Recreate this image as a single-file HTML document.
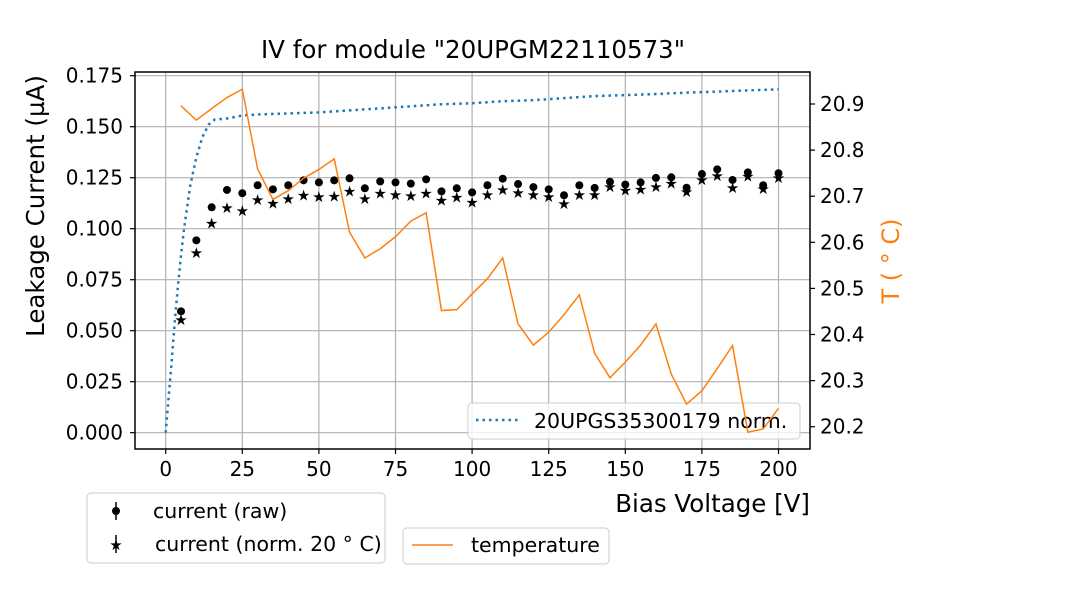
<!DOCTYPE html>
<html><head><meta charset="utf-8"><style>
html,body{margin:0;padding:0;background:#fff;}
svg{display:block;font-family:"DejaVu Sans","Liberation Sans",sans-serif;}
</style></head><body>
<svg id="chart" width="1080" height="600" viewBox="0 0 1080 600">
<rect width="1080" height="600" fill="#fff"/>
<g id="grid"></g>
<g id="series"></g>
<g id="axes"></g>
<text x="473" y="58" font-size="24.5" text-anchor="middle">IV for module "20UPGM22110573"</text>
<text transform="translate(44,206) rotate(-90)" font-size="24.5" text-anchor="middle">Leakage Current (µA)</text>
<text transform="translate(899,261) rotate(-90)" font-size="24" text-anchor="middle" fill="#ff7f0e">T ( ° C)</text>
<text x="810" y="512" font-size="24.5" text-anchor="end">Bias Voltage [V]</text>
<g id="legend1">
<rect x="87" y="493" width="298" height="70" rx="4" fill="#fff" fill-opacity="0.8" stroke="#ccc"/>
<g>
<line x1="116" y1="502" x2="116" y2="520" stroke="#000" stroke-width="1.5"/>
<circle cx="116" cy="511" r="4" fill="#000"/>
<text x="153" y="518" font-size="20.5">current (raw)</text></g>
<g>
<line x1="116" y1="535" x2="116" y2="553" stroke="#000" stroke-width="1.5"/>
<text x="116" y="550" font-size="15" text-anchor="middle">★</text>
<text x="155" y="551" font-size="20.5">current (norm. 20 ° C)</text></g>
</g>
<g>
<rect x="403" y="528" width="206" height="36" rx="4" fill="#fff" fill-opacity="0.8" stroke="#ccc"/>
<line x1="412" y1="545" x2="453" y2="545" stroke="#ff7f0e" stroke-width="1.5"/>
<text x="471" y="552" font-size="20.5">temperature</text>
</g>
<g>
<rect x="468" y="403" width="332" height="36" rx="4" fill="#fff" fill-opacity="0.8" stroke="#ccc"/>
<line x1="476" y1="420" x2="518" y2="420" stroke="#1f77b4" stroke-width="2.5" stroke-dasharray="2.5,4"/>
<text x="534" y="428" font-size="20.5">20UPGS35300179 norm.</text>
</g>
<g id="tempLayer"></g>
</svg>
<script>
const voltages = [5,10,15,20,25,30,35,40,45,50,55,60,65,70,75,80,85,90,95,100,105,110,115,120,125,130,135,140,145,150,155,160,165,170,175,180,185,190,195,200];
const currentRaw = [0.0595,0.0943,0.1105,0.119,0.1174,0.1213,0.1193,0.1213,0.1237,0.1227,0.1237,0.1247,0.1198,0.1232,0.1227,0.1221,0.1242,0.1183,0.1198,0.1178,0.1213,0.1245,0.1219,0.1204,0.1193,0.1164,0.1213,0.12,0.123,0.1216,0.1227,0.1249,0.1252,0.1201,0.1268,0.1291,0.1239,0.1276,0.1213,0.1272];
const currentNorm = [0.0554,0.0884,0.1029,0.1105,0.109,0.1142,0.1127,0.1149,0.1164,0.1157,0.116,0.1186,0.1147,0.1176,0.1167,0.1162,0.1176,0.1141,0.1155,0.1131,0.1167,0.1193,0.1178,0.1167,0.1157,0.1124,0.1167,0.1167,0.1206,0.119,0.1195,0.1206,0.1223,0.1183,0.1242,0.1262,0.1201,0.1258,0.1198,0.125];
const temperature = [20.896,20.865,20.89,20.914,20.932,20.759,20.693,20.712,20.739,20.758,20.781,20.622,20.566,20.586,20.612,20.646,20.664,20.452,20.454,20.488,20.521,20.566,20.423,20.377,20.405,20.443,20.486,20.359,20.306,20.34,20.377,20.423,20.314,20.249,20.278,20.326,20.376,20.188,20.195,20.24];
const refVoltages = [0,1,2,3,4,5,6,8,10,12,14,16,20,25,30,40,50,60,70,80,90,100,110,120,130,140,150,160,170,180,190,200];
const refCurrent = [0,0.018,0.036,0.055,0.072,0.087,0.1,0.121,0.135,0.145,0.151,0.1535,0.154,0.1555,0.156,0.1565,0.157,0.158,0.159,0.16,0.161,0.1615,0.1625,0.163,0.164,0.165,0.1655,0.166,0.1667,0.1672,0.1678,0.1683];
const xTicks = [0,25,50,75,100,125,150,175,200];
const yTicks = [0,0.025,0.05,0.075,0.1,0.125,0.15,0.175];
const yTickLabels = ["0.000","0.025","0.050","0.075","0.100","0.125","0.150","0.175"];
const tTicks = [20.2,20.3,20.4,20.5,20.6,20.7,20.8,20.9];

const L=135,R=810,T=72,B=449;
const xs=v=>165.7+v*3.064;
const ys=c=>432.7-c*2040;
const ts=t=>104+(20.9-t)*461;
const NS="http://www.w3.org/2000/svg";
function mk(tag,attrs,parent){const e=document.createElementNS(NS,tag);for(const k in attrs)e.setAttribute(k,attrs[k]);parent.appendChild(e);return e;}
const grid=document.getElementById('grid'),series=document.getElementById('series'),axes=document.getElementById('axes'),tl=document.getElementById('tempLayer');
xTicks.forEach(v=>{const g=mk('line',{x1:xs(v),x2:xs(v),y1:T,y2:B,stroke:'#b0b0b0','stroke-width':1.2},grid);


const tk=mk('line',{x1:xs(v),x2:xs(v),y1:B,y2:B+5,stroke:'#000','stroke-width':1.2},axes);


const t=mk('text',{x:xs(v),y:B+27,'font-size':20,'text-anchor':'middle'},axes);t.textContent=v;

});
yTicks.forEach((c,i)=>{const g=mk('line',{x1:L,x2:R,y1:ys(c),y2:ys(c),stroke:'#b0b0b0','stroke-width':1.2},grid);


const tk=mk('line',{x1:L-5,x2:L,y1:ys(c),y2:ys(c),stroke:'#000','stroke-width':1.2},axes);


const t=mk('text',{x:L-12,y:ys(c)+7,'font-size':20,'text-anchor':'end'},axes);t.textContent=yTickLabels[i];

});
tTicks.forEach(v=>{const tk=mk('line',{x1:R,x2:R+5,y1:ts(v),y2:ts(v),stroke:'#000','stroke-width':1.2},axes);


const t=mk('text',{x:R+10,y:ts(v)+7,'font-size':20},axes);t.textContent=v.toFixed(1);

});
const fr=mk('rect',{x:L,y:T,width:R-L,height:B-T,fill:'none',stroke:'#000','stroke-width':1.5},axes);


const ref=mk('polyline',{points:refVoltages.map((v,i)=>xs(v)+','+ys(refCurrent[i])).join(' '),fill:'none',stroke:'#1f77b4','stroke-width':2.5,'stroke-dasharray':'2.5,4'},series);


voltages.forEach((v,i)=>{
const c=mk('circle',{cx:xs(v),cy:ys(currentRaw[i]),r:4,fill:'#000'},series);


const s=mk('text',{x:xs(v),y:ys(currentNorm[i])+5.5,'font-size':15,'text-anchor':'middle'},series);s.textContent='★';

});
const tp=mk('polyline',{points:voltages.map((v,i)=>xs(v)+','+ts(temperature[i])).join(' '),fill:'none',stroke:'#ff7f0e','stroke-width':1.5},tl);


</script>
</body></html>
